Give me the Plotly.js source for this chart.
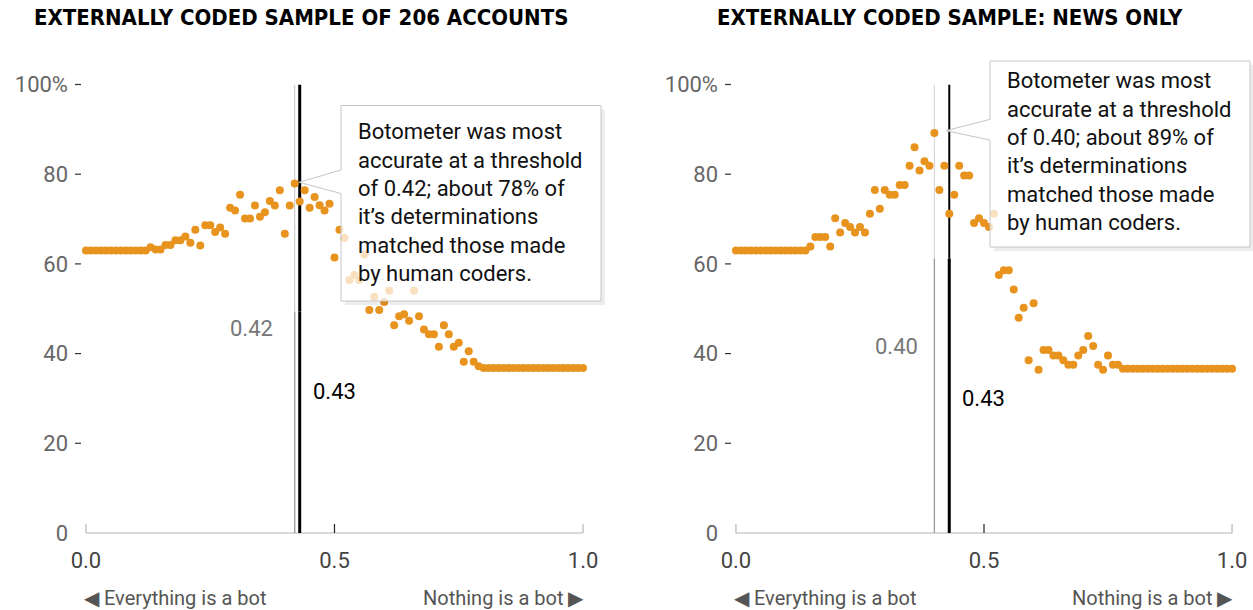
<!DOCTYPE html>
<html><head><meta charset="utf-8">
<script src="https://cdn.plot.ly/plotly-3.0.1.min.js"></script>
<style>html,body{margin:0;padding:0;background:#fff}</style>
</head><body><div id="chart" style="width:1253px;height:610px"></div>
<script>
// ---------------- data ----------------
const thresholds = [0.00,0.01,0.02,0.03,0.04,0.05,0.06,0.07,0.08,0.09,
 0.10,0.11,0.12,0.13,0.14,0.15,0.16,0.17,0.18,0.19,
 0.20,0.21,0.22,0.23,0.24,0.25,0.26,0.27,0.28,0.29,
 0.30,0.31,0.32,0.33,0.34,0.35,0.36,0.37,0.38,0.39,
 0.40,0.41,0.42,0.43,0.44,0.45,0.46,0.47,0.48,0.49,
 0.50,0.51,0.52,0.53,0.54,0.55,0.56,0.57,0.58,0.59,
 0.60,0.61,0.62,0.63,0.64,0.65,0.66,0.67,0.68,0.69,
 0.70,0.71,0.72,0.73,0.74,0.75,0.76,0.77,0.78,0.79,
 0.80,0.81,0.82,0.83,0.84,0.85,0.86,0.87,0.88,0.89,
 0.90,0.91,0.92,0.93,0.94,0.95,0.96,0.97,0.98,0.99,1.00];

const allAccuracy = [63,63,63,63,63,63,63,63,63,63,
 63,63,63,63.7,63.2,63.2,64.2,64.2,65.3,65.3,
 66.1,64.7,67.6,64.1,68.6,68.6,67.1,68.1,66.7,72.5,
 71.9,75.4,70.1,70.1,73.0,70.5,71.5,74.0,73.0,76.4,
 66.7,73.0,77.9,73.9,76.4,72.5,74.9,73.1,71.9,73.4,
 61.4,67.6,65.8,56.4,57.5,56.4,62.1,49.7,52.6,49.7,
 51.5,54.0,46.3,48.3,48.8,47.3,54.0,48.3,45.4,44.3,
 44.3,41.5,46.3,44.3,41.5,42.4,38.2,40.5,38.2,37.2,
 36.8,36.8,36.8,36.8,36.8,36.8,36.8,36.8,36.8,36.8,
 36.8,36.8,36.8,36.8,36.8,36.8,36.8,36.8,36.8,36.8,36.8];

const newsAccuracy = [63,63,63,63,63,63,63,63,63,63,
 63,63,63,63,63,63.9,66,66,66,63.9,
 70.2,67,69.1,68.2,67,68.2,67,71.2,76.5,72.3,
 76.5,75.4,75.4,77.6,77.6,81.9,86,80.8,82.9,81.9,
 89.2,76.5,81.9,71.2,75.4,81.9,79.7,79.7,69.1,70.2,
 69.1,68.2,71.2,57.5,58.6,58.6,54.3,48,50.2,38.5,
 51.2,36.4,40.8,40.8,39.6,39.6,38.5,37.5,37.5,39.6,
 40.8,43.9,41.7,37.5,36.4,39.6,37.5,37.5,36.6,36.6,
 36.6,36.6,36.6,36.6,36.6,36.6,36.6,36.6,36.6,36.6,
 36.6,36.6,36.6,36.6,36.6,36.6,36.6,36.6,36.6,36.6,36.6];

const yTickVals = [0,20,40,60,80,100];
const yTickText = ['0','20','40','60','80','100%'];
const xTickVals = [0,0.5,1];
const xTickText = ['0.0','0.5','1.0'];
const panelTitles = ['EXTERNALLY CODED SAMPLE OF 206 ACCOUNTS','EXTERNALLY CODED SAMPLE: NEWS ONLY'];
const bestThreshold = [0.42, 0.40];
const bestThresholdLabel = ['0.42','0.40'];
const defaultThreshold = [0.43, 0.43];
const defaultThresholdLabel = ['0.43','0.43'];
const noteLines = [
 ['Botometer was most','accurate at a threshold','of 0.42; about 78% of','it\u2019s determinations','matched those made','by human coders.'],
 ['Botometer was most','accurate at a threshold','of 0.40; about 89% of','it\u2019s determinations','matched those made','by human coders.']
];
const endLabels = ['\u25C0 Everything is a bot','Nothing is a bot \u25B6'];

// ---------------- layout helpers ----------------
const W = 1253, H = 610;
const px = x => x / W;
const py = y => 1 - y / H;
const TOP = 84.5, BOT = 533;
const vy = v => BOT - v / 100 * (BOT - TOP); // pixel y of a value (for decorations)
const ORANGE = 'rgb(232,147,30)';
const FONT = 'Roboto, "Liberation Sans", Arial, sans-serif';
const TFONT = '"Liberation Sans Narrow", "DejaVu Sans Condensed", "Roboto", sans-serif';

const panels = [
  {xa:'x', ya:'y', left:81, right:588, title:301, data:allAccuracy, breakV:49.4,
   upperW:[1,3], box:{x0:341,x1:601,y0:105.5,y1:301,pTop:170,pBot:193.5,tipX:299,tipY:182.3},
   textX:356, textY0:131.7, lab1:{x:275,y:328}, lab2:{x:311,y:391.7}},
  {xa:'x2', ya:'y2', left:731, right:1237, title:950, data:newsAccuracy, breakV:61.2,
   upperW:[0.8,2], box:{x0:990,x1:1250,y0:61,y1:247,pTop:119.3,pBot:140,tipX:946,tipY:130.7},
   textX:1005, textY0:80.7, lab1:{x:920,y:346}, lab2:{x:960,y:398}}
];

const traces = [];
const shapes = [];
const annotations = [];
const layout = {
  width: W, height: H, autosize: false,
  margin: {l:0, r:0, t:0, b:0, pad:0},
  paper_bgcolor: '#fff', plot_bgcolor: '#fff',
  showlegend: false, hovermode: false,
  font: {family: FONT, color: '#444'}
};

panels.forEach((p, i) => {
  const sfx = i === 0 ? '' : '2';
  layout['xaxis' + sfx] = {
    domain: [px(p.left), px(p.right)], range: [-0.01, 1.01], anchor: 'y' + sfx,
    showgrid: false, zeroline: false, showline: false, ticks: '',
    tickvals: xTickVals, ticktext: xTickText, ticklabelstandoff: 12,
    tickfont: {family: FONT, size: 22, color: '#444'}
  };
  layout['yaxis' + sfx] = {
    domain: [py(BOT), py(TOP)], range: [0, 100], anchor: 'x' + sfx,
    showgrid: false, zeroline: false, showline: false, ticks: '',
    tickvals: yTickVals, ticktext: yTickText, ticklabelstandoff: 12,
    tickfont: {family: FONT, size: 22, color: '#666'}
  };

  traces.push({
    type: 'scatter', mode: 'markers', x: thresholds, y: p.data,
    xaxis: p.xa, yaxis: p.ya, cliponaxis: false,
    marker: {color: ORANGE, size: 8, line: {width: 0}}
  });

  // x axis baseline 0..1 and ticks
  shapes.push({type:'line', xref:p.xa, yref:'paper', x0:0, x1:1, y0:py(BOT), y1:py(BOT),
    line:{color:'#b5b5b5', width:1.2}, layer:'below'});
  xTickVals.forEach(t => {
    shapes.push({type:'line', xref:p.xa, yref:'paper', x0:t, x1:t, y0:py(BOT), y1:py(BOT-9),
      line:{color: t === 0.5 ? '#222' : '#b5b5b5', width:1.2}, layer:'below'});
  });
  // y tick dashes
  yTickVals.filter(v => v > 0).forEach(v => {
    shapes.push({type:'line', xref:'paper', yref:'paper', x0:px(p.left-6), x1:px(p.left),
      y0:py(vy(v)), y1:py(vy(v)), line:{color:'#333', width:1.2}, layer:'below'});
  });

  // threshold lines (upper part lighter)
  shapes.push({type:'line', xref:p.xa, yref:p.ya, x0:bestThreshold[i], x1:bestThreshold[i], y0:0, y1:p.breakV,
    line:{color:'#999', width:1.3}, layer:'below'});
  shapes.push({type:'line', xref:p.xa, yref:p.ya, x0:bestThreshold[i], x1:bestThreshold[i], y0:p.breakV, y1:100,
    line:{color:'#c4c4c4', width:p.upperW[0]}, layer:'below'});
  shapes.push({type:'line', xref:p.xa, yref:p.ya, x0:defaultThreshold[i], x1:defaultThreshold[i], y0:0, y1:p.breakV,
    line:{color:'#000', width:3}, layer:'below'});
  shapes.push({type:'line', xref:p.xa, yref:p.ya, x0:defaultThreshold[i], x1:defaultThreshold[i], y0:p.breakV, y1:100,
    line:{color:'#000', width:p.upperW[1]}, layer:'below'});

  // callout box: shadow + semi-transparent box with pointer
  const b = p.box;
  shapes.push({type:'rect', xref:'paper', yref:'paper', x0:px(b.x1), x1:px(b.x1+4), y0:py(b.y1+4), y1:py(b.y0+4),
    fillcolor:'rgba(0,0,0,0.07)', line:{width:0}, layer:'above'});
  shapes.push({type:'rect', xref:'paper', yref:'paper', x0:px(b.x0+4), x1:px(b.x1), y0:py(b.y1+4), y1:py(b.y1),
    fillcolor:'rgba(0,0,0,0.07)', line:{width:0}, layer:'above'});
  const path = 'M ' + px(b.x0) + ',' + py(b.y0) + ' L ' + px(b.x1) + ',' + py(b.y0) +
    ' L ' + px(b.x1) + ',' + py(b.y1) + ' L ' + px(b.x0) + ',' + py(b.y1) +
    ' L ' + px(b.x0) + ',' + py(b.pBot) + ' L ' + px(b.tipX) + ',' + py(b.tipY) +
    ' L ' + px(b.x0) + ',' + py(b.pTop) + ' Z';
  shapes.push({type:'path', xref:'paper', yref:'paper', path: path,
    fillcolor:'rgba(255,255,255,0.72)', line:{color:'#c6c6c6', width:1}, layer:'above'});

  // texts
  annotations.push({xref:'paper', yref:'paper', x:px(p.title), y:py(18), xanchor:'center', yanchor:'middle',
    text:'<b>' + panelTitles[i] + '</b>', showarrow:false,
    font:{family:TFONT, size:22, color:'#000'}});
  noteLines[i].forEach((line, k) => {
    annotations.push({xref:'paper', yref:'paper', x:px(p.textX), y:py(p.textY0 + k*28.4),
      xanchor:'left', yanchor:'middle', text:line, showarrow:false,
      font:{family:FONT, size:22, color:'#111'}});
  });
  annotations.push({xref:'paper', yref:'paper', x:px(p.lab1.x), y:py(p.lab1.y), xanchor:'right', yanchor:'middle',
    text:bestThresholdLabel[i], showarrow:false, font:{family:FONT, size:22, color:'#777'}});
  annotations.push({xref:'paper', yref:'paper', x:px(p.lab2.x), y:py(p.lab2.y), xanchor:'left', yanchor:'middle',
    text:defaultThresholdLabel[i], showarrow:false, font:{family:FONT, size:22, color:'#000'}});
  annotations.push({xref:'paper', yref:'paper', x:px(p.left+1), y:py(598), xanchor:'left', yanchor:'middle',
    text:endLabels[0], showarrow:false, font:{family:FONT, size:20, color:'#555'}});
  annotations.push({xref:'paper', yref:'paper', x:px(p.right-2), y:py(598), xanchor:'right', yanchor:'middle',
    text:endLabels[1], showarrow:false, font:{family:FONT, size:20, color:'#555'}});
});

layout.shapes = shapes;
layout.annotations = annotations;
Plotly.newPlot('chart', traces, layout, {displayModeBar:false, staticPlot:true});
</script>
</body></html>
